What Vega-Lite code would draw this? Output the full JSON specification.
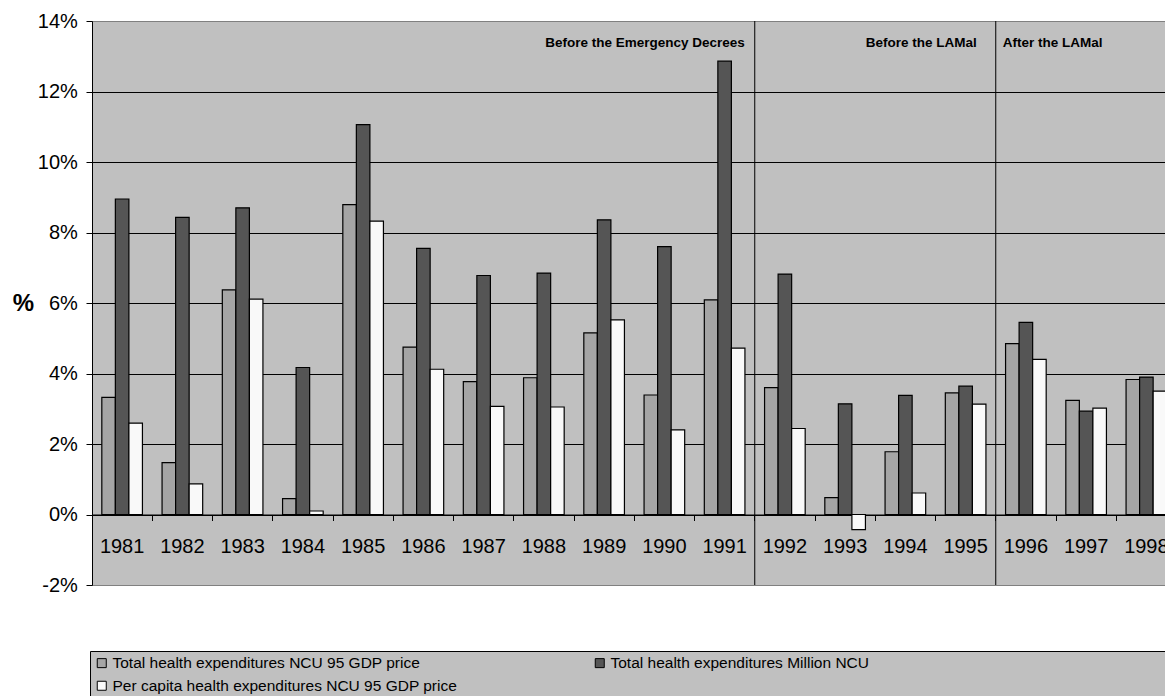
{
  "$schema": "https://vega.github.io/schema/vega-lite/v6.json",
  "width": 1073,
  "height": 564,
  "autosize": {"type": "none"},
  "padding": {"left": 92, "top": 21, "right": 0, "bottom": 111},
  "background": "#FFFFFF",
  "config": {
    "view": {"fill": "#C0C0C0", "stroke": "#808080", "strokeWidth": 1},
    "font": "Liberation Sans"
  },
  "datasets": {
    "main": [
      {"year": "1981", "Total health expenditures NCU 95 GDP price": 3.32, "Total health expenditures Million NCU": 8.95, "Per capita health expenditures NCU 95 GDP price": 2.59},
      {"year": "1982", "Total health expenditures NCU 95 GDP price": 1.47, "Total health expenditures Million NCU": 8.43, "Per capita health expenditures NCU 95 GDP price": 0.87},
      {"year": "1983", "Total health expenditures NCU 95 GDP price": 6.37, "Total health expenditures Million NCU": 8.70, "Per capita health expenditures NCU 95 GDP price": 6.11},
      {"year": "1984", "Total health expenditures NCU 95 GDP price": 0.45, "Total health expenditures Million NCU": 4.17, "Per capita health expenditures NCU 95 GDP price": 0.10},
      {"year": "1985", "Total health expenditures NCU 95 GDP price": 8.79, "Total health expenditures Million NCU": 11.06, "Per capita health expenditures NCU 95 GDP price": 8.32},
      {"year": "1986", "Total health expenditures NCU 95 GDP price": 4.75, "Total health expenditures Million NCU": 7.55, "Per capita health expenditures NCU 95 GDP price": 4.12},
      {"year": "1987", "Total health expenditures NCU 95 GDP price": 3.77, "Total health expenditures Million NCU": 6.78, "Per capita health expenditures NCU 95 GDP price": 3.07},
      {"year": "1988", "Total health expenditures NCU 95 GDP price": 3.88, "Total health expenditures Million NCU": 6.85, "Per capita health expenditures NCU 95 GDP price": 3.05},
      {"year": "1989", "Total health expenditures NCU 95 GDP price": 5.15, "Total health expenditures Million NCU": 8.36, "Per capita health expenditures NCU 95 GDP price": 5.52},
      {"year": "1990", "Total health expenditures NCU 95 GDP price": 3.39, "Total health expenditures Million NCU": 7.60, "Per capita health expenditures NCU 95 GDP price": 2.40},
      {"year": "1991", "Total health expenditures NCU 95 GDP price": 6.09, "Total health expenditures Million NCU": 12.86, "Per capita health expenditures NCU 95 GDP price": 4.72},
      {"year": "1992", "Total health expenditures NCU 95 GDP price": 3.60, "Total health expenditures Million NCU": 6.82, "Per capita health expenditures NCU 95 GDP price": 2.44},
      {"year": "1993", "Total health expenditures NCU 95 GDP price": 0.48, "Total health expenditures Million NCU": 3.14, "Per capita health expenditures NCU 95 GDP price": -0.43},
      {"year": "1994", "Total health expenditures NCU 95 GDP price": 1.78, "Total health expenditures Million NCU": 3.38, "Per capita health expenditures NCU 95 GDP price": 0.61},
      {"year": "1995", "Total health expenditures NCU 95 GDP price": 3.45, "Total health expenditures Million NCU": 3.64, "Per capita health expenditures NCU 95 GDP price": 3.13},
      {"year": "1996", "Total health expenditures NCU 95 GDP price": 4.85, "Total health expenditures Million NCU": 5.45, "Per capita health expenditures NCU 95 GDP price": 4.40},
      {"year": "1997", "Total health expenditures NCU 95 GDP price": 3.24, "Total health expenditures Million NCU": 2.93, "Per capita health expenditures NCU 95 GDP price": 3.02},
      {"year": "1998", "Total health expenditures NCU 95 GDP price": 3.83, "Total health expenditures Million NCU": 3.90, "Per capita health expenditures NCU 95 GDP price": 3.50}
    ]
  },
  "layer": [
    {
      "data": {"name": "main"},
      "transform": [
        {"fold": ["Total health expenditures NCU 95 GDP price", "Total health expenditures Million NCU", "Per capita health expenditures NCU 95 GDP price"], "as": ["series", "value"]}
      ],
      "mark": {"type": "bar", "stroke": "#000000", "strokeWidth": 1.2},
      "encoding": {
        "x": {
          "field": "year",
          "type": "ordinal",
          "scale": {"range": [0, 1084.5], "paddingInner": 0, "paddingOuter": 0},
          "axis": {
            "orient": "bottom",
            "offset": -70.5,
            "title": null,
            "grid": false,
            "domainColor": "#000000",
            "domainWidth": 1,
            "tickColor": "#000000",
            "tickSize": 6,
            "bandPosition": 0,
            "labelAngle": 0,
            "labelFontSize": 20,
            "labelColor": "#000000",
            "labelPadding": 16
          }
        },
        "xOffset": {
          "field": "series",
          "type": "nominal",
          "scale": {"domain": ["Total health expenditures NCU 95 GDP price", "Total health expenditures Million NCU", "Per capita health expenditures NCU 95 GDP price"], "paddingInner": 0, "paddingOuter": 0.725}
        },
        "y": {
          "field": "value",
          "type": "quantitative",
          "scale": {"domain": [-2, 14], "nice": false, "zero": false},
          "axis": {
            "title": "%",
            "titleAngle": 0,
            "titleFontSize": 24,
            "titleFontWeight": "bold",
            "titleColor": "#000000",
            "titleX": -69,
            "titleY": 282.7,
            "titleAlign": "center",
            "titleBaseline": "middle",
            "values": [-2, 0, 2, 4, 6, 8, 10, 12, 14],
            "labelExpr": "datum.value + '%'",
            "labelFontSize": 20,
            "labelColor": "#000000",
            "labelPadding": 8.7,
            "tickSize": 6,
            "tickColor": "#000000",
            "domainColor": "#000000",
            "grid": true,
            "gridColor": {"condition": {"test": "datum.value == 14 || datum.value == -2", "value": "#808080"}, "value": "#000000"},
            "gridOpacity": 1,
            "gridWidth": 1
          }
        },
        "color": {
          "field": "series",
          "type": "nominal",
          "scale": {"domain": ["Total health expenditures NCU 95 GDP price", "Total health expenditures Million NCU", "Per capita health expenditures NCU 95 GDP price"], "range": ["#A5A5A5", "#555555", "#F9F9F9"]},
          "legend": {
            "title": null,
            "orient": "none",
            "legendX": -2,
            "legendY": 630,
            "direction": "horizontal",
            "columns": 2,
            "columnPadding": 134,
            "rowPadding": 6,
            "fillColor": "#C0C0C0",
            "strokeColor": "#000000",
            "padding": 4,
            "symbolType": "square",
            "symbolSize": 81,
            "symbolStrokeColor": "#000000",
            "symbolStrokeWidth": 1,
            "labelFont": "Liberation Sans",
            "labelFontSize": 15.5,
            "labelColor": "#000000",
            "labelOffset": 3,
            "labelLimit": 0,
            "labelExpr": "datum.label == 'Total health expenditures Million NCU' ? datum.label + '\u2800\u2800\u2800\u2800\u2800\u2800\u2800\u2800\u2800\u2800\u2800\u2800\u2800\u2800\u2800\u2800\u2800\u2800\u2800\u2800\u2800\u2800\u2800\u2800\u2800\u2800\u2800\u2800\u2800\u2800' : datum.label"
          }
        }
      }
    },
    {
      "data": {"values": [{"year": "1991"}, {"year": "1995"}]},
      "mark": {"type": "rule", "color": "#000000", "strokeWidth": 1},
      "encoding": {
        "x": {"field": "year", "type": "ordinal", "bandPosition": 1}
      }
    },
    {
      "data": {"values": [{"year": "1991", "label": "Before the Emergency Decrees"}]},
      "mark": {"type": "text", "align": "right", "baseline": "alphabetic", "dx": -10, "font": "Liberation Sans", "fontWeight": "bold", "fontSize": 13.5, "color": "#000000"},
      "encoding": {
        "x": {"field": "year", "type": "ordinal", "bandPosition": 1},
        "y": {"datum": 13.25, "type": "quantitative"},
        "text": {"field": "label"}
      }
    },
    {
      "data": {"values": [{"year": "1995", "label": "Before the LAMal"}]},
      "mark": {"type": "text", "align": "right", "baseline": "alphabetic", "dx": -19, "font": "Liberation Sans", "fontWeight": "bold", "fontSize": 13.5, "color": "#000000"},
      "encoding": {
        "x": {"field": "year", "type": "ordinal", "bandPosition": 1},
        "y": {"datum": 13.25, "type": "quantitative"},
        "text": {"field": "label"}
      }
    },
    {
      "data": {"values": [{"year": "1996", "label": "After the LAMal"}]},
      "mark": {"type": "text", "align": "left", "baseline": "alphabetic", "dx": 7, "font": "Liberation Sans", "fontWeight": "bold", "fontSize": 13.5, "color": "#000000"},
      "encoding": {
        "x": {"field": "year", "type": "ordinal", "bandPosition": 0},
        "y": {"datum": 13.25, "type": "quantitative"},
        "text": {"field": "label"}
      }
    }
  ]
}
